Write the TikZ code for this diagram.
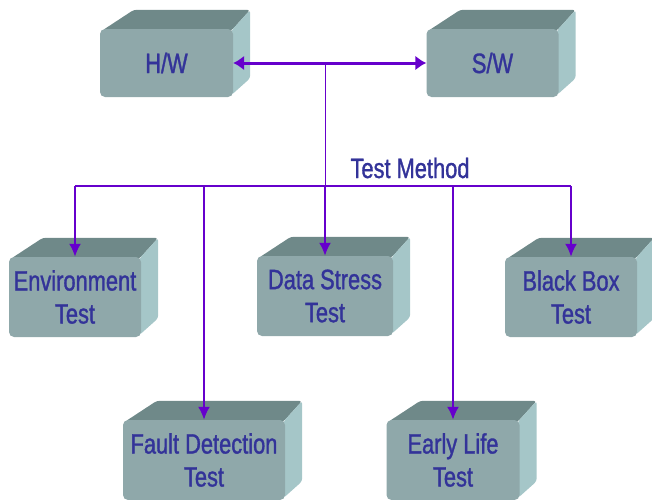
\documentclass[tikz,border=0pt]{standalone}
\usepackage{fontspec}
\newfontfamily\boxfont[FakeStretch=0.78,FakeBold=1.2]{Liberation Sans}
\usetikzlibrary{arrows.meta,backgrounds}
\definecolor{facefront}{HTML}{8FA8AA}
\definecolor{facetop}{HTML}{6F8989}
\definecolor{faceside}{HTML}{A5C6C8}
\definecolor{labelblue}{HTML}{333399}
\definecolor{linkpurple}{HTML}{6600CC}
\tikzset{
  block/.style={fill=facefront, rounded corners=5pt, align=center, text=labelblue,
    font=\boxfont\fontsize{28}{33}\selectfont, inner sep=0pt, minimum height=80pt},
  link/.style={linkpurple, line width=2.2pt, -{Latex[length=13pt,width=12pt]}},
}

\begin{document}
\begin{tikzpicture}[x=1pt, y=-1pt]
\useasboundingbox (0,0) rectangle (652,499);
% front faces
\node[block, minimum width=133pt, minimum height=68pt] (hw) at (166.5,63) {H/W};
\node[block, minimum width=132pt, minimum height=68pt] (sw) at (492.5,63) {S/W};
\node[block, minimum width=132pt] (env) at (75,297) {Environment\\Test};
\node[block, minimum width=136pt] (data) at (325,296) {Data Stress\\Test};
\node[block, minimum width=132pt] (black) at (571,297) {Black Box\\Test};
\node[block, minimum width=162pt] (fault) at (204,460) {Fault Detection\\Test};
\node[block, minimum width=133pt] (early) at (453,460) {Early Life\\Test};
% top and side faces
\begin{scope}[on background layer]
\foreach \n in {hw,sw,env,data,black,fault,early}{
  \fill[facetop, rounded corners=3pt] ([shift={(2,2)}]\n.north west) -- ++(32,-21)
    -- ([shift={(17,-19)}]\n.north east) -- ([shift={(-2,2)}]\n.north east) -- cycle;
  \fill[faceside, rounded corners=3pt] ([shift={(-2,2)}]\n.north east) -- ++(19,-21)
    -- ([shift={(17,-19)}]\n.south east) -- ([shift={(-2,-2)}]\n.south east) -- cycle;
}
\end{scope}
% links
\draw[linkpurple, line width=3pt, {Latex[length=11pt,width=15pt]}-{Latex[length=11pt,width=15pt]}] (hw) -- (sw);
\coordinate (bus) at (0,186);
\draw[linkpurple, line width=1pt] (data.north |- hw.east) -- (bus -| data.north);
\draw[linkpurple, line width=2.2pt] (bus -| env.north) -- (bus -| black.north);
\foreach \n in {env,data,black,fault,early}
  \draw[link] (bus -| \n.north) -- (\n.north);
\node[anchor=base, text=labelblue, font=\boxfont\fontsize{28}{33}\selectfont] (method) at (410,178) {Test Method};
\end{tikzpicture}
\end{document}
